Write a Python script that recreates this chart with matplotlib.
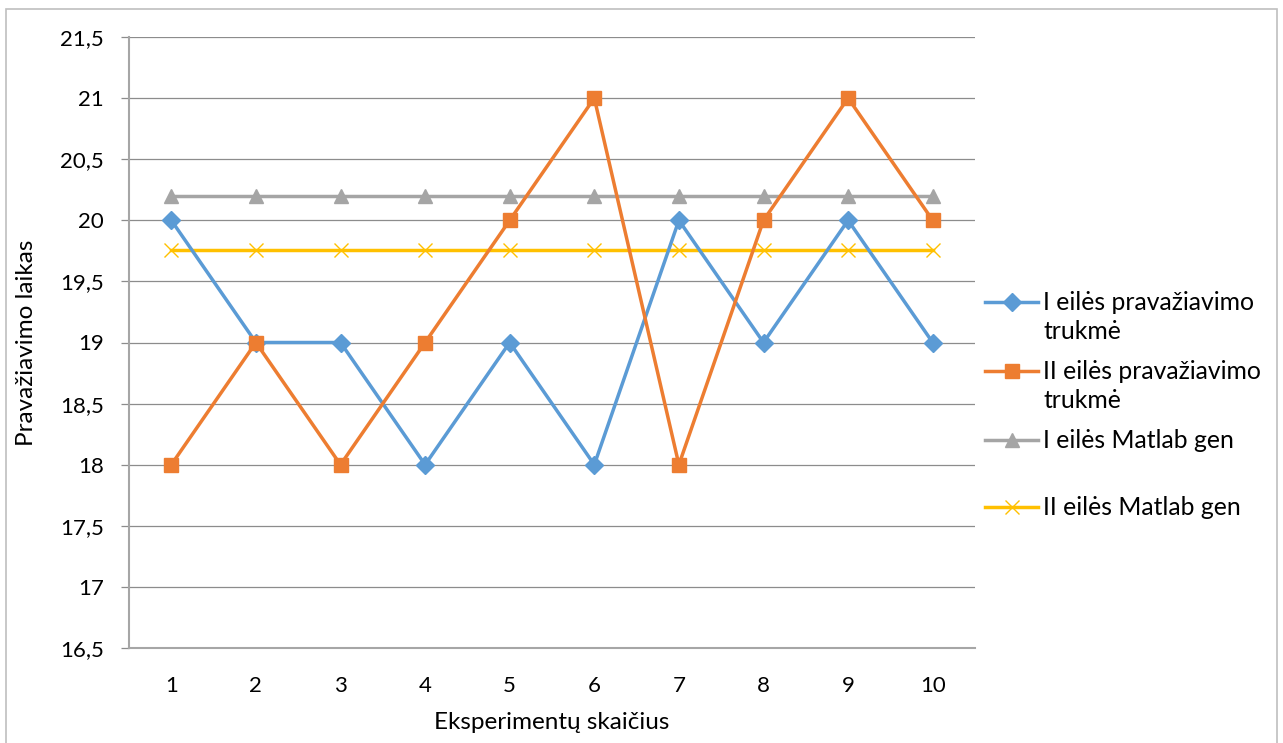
import matplotlib
matplotlib.use("Agg")
import matplotlib.pyplot as plt
from matplotlib.lines import Line2D
from matplotlib.patches import Rectangle

plt.rcParams["font.family"] = ["Lato", "DejaVu Sans"]

experiments = [1, 2, 3, 4, 5, 6, 7, 8, 9, 10]
first_order = [20, 19, 19, 18, 19, 18, 20, 19, 20, 19]
second_order = [18, 19, 18, 19, 20, 21, 18, 20, 21, 20]
first_matlab = [20.2] * 10
second_matlab = [19.76] * 10

labels = ["I eilės pravažiavimo\ntrukmė", "II eilės pravažiavimo\ntrukmė",
          "I eilės Matlab gen", "II eilės Matlab gen"]
y_ticks = [16.5, 17, 17.5, 18, 18.5, 19, 19.5, 20, 20.5, 21, 21.5]

W, H = 1283, 743
fig = plt.figure(figsize=(W / 100, H / 100), dpi=100)
ax = fig.add_axes([129 / W, 95 / H, (975 - 129) / W, (648 - 37) / H])

# outer chart frame (bottom edge runs off the image)
fig.patches.append(Rectangle((6 / W, -0.02), 1271 / W, 0.02 + 734 / H,
                             transform=fig.transFigure, fill=False,
                             edgecolor="#bfbfbf", linewidth=1.2))

lw = 2.5
styles = [
    dict(color="#5b9bd5", marker="D", markersize=9, zorder=4),
    dict(color="#ed7d31", marker="s", markersize=10.5, zorder=5),
    dict(color="#a5a5a5", marker="^", markersize=10.5, zorder=3),
    dict(color="#ffc000", marker="x", markersize=9.5, markeredgewidth=1.0, zorder=3),
]
series = [first_order, second_order, first_matlab, second_matlab]
for values, st in zip(series, styles):
    ax.plot(experiments, values, linewidth=lw, **st)

ax.set_xlim(0.5, 10.5)
ax.set_ylim(16.5, 21.5)
ax.set_yticks(y_ticks)
ax.set_yticklabels([f"{t:g}".replace(".", ",") for t in y_ticks])
ax.set_xticks(experiments)
ax.set_xticklabels([str(e) for e in experiments])

ax.grid(axis="y", color="#8c8c8c", linewidth=0.9)
ax.set_axisbelow(True)
for side in ("top", "right"):
    ax.spines[side].set_visible(False)
for side in ("left", "bottom"):
    ax.spines[side].set_color("#a6a6a6")
    ax.spines[side].set_linewidth(1.5)
ax.tick_params(axis="y", length=6, color="#8c8c8c", width=0.9, pad=12,
               labelsize=16, labelcolor="#000000")
ax.tick_params(axis="x", length=0, pad=20, labelsize=16)

ax.set_xlabel("Eksperimentų skaičius", fontsize=17.5, labelpad=12)
ax.set_ylabel("Pravažiavimo laikas", fontsize=17.5, labelpad=17)

# legend at the right, one row per series, marker level with the first text line
legend_rows = [302, 371, 440, 507]
for row, label, st in zip(legend_rows, labels, styles):
    yf = 1 - row / H
    fig.add_artist(Line2D([985 / W, 1038 / W], [yf, yf], transform=fig.transFigure,
                          linewidth=lw, markevery=[], **st))
    fig.add_artist(Line2D([1011.5 / W], [yf], transform=fig.transFigure,
                          linestyle="none", **st))
    fig.text(1043 / W, yf + 11 / H, label, fontsize=17.8, va="top", ha="left",
             linespacing=1.3)

fig.savefig("out.png", dpi=100)
